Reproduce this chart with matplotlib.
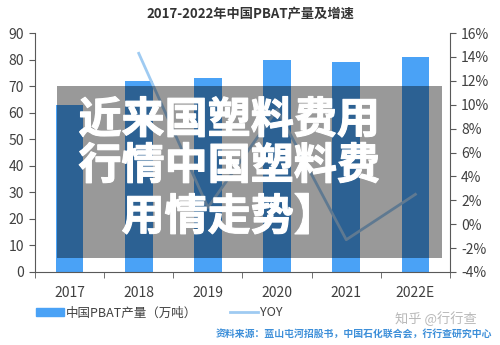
import matplotlib
matplotlib.use("Agg")
import matplotlib.pyplot as plt
import matplotlib.patheffects as pe
from matplotlib.patches import Rectangle, Patch
from matplotlib.lines import Line2D
import numpy as np

plt.rcParams["font.family"] = ["Noto Sans CJK SC", "DejaVu Sans"]

years = ["2017", "2018", "2019", "2020", "2021", "2022E"]
output = [63, 72, 73, 80, 79, 81]          # 万吨
yoy_years = ["2018", "2019", "2020", "2021", "2022E"]
yoy = [14.3, 1.4, 9.6, -1.3, 2.5]           # %

title = "2017-2022年中国PBAT产量及增速"
bar_label = "中国PBAT产量（万吨）"
line_label = "YOY"
source = "资料来源：蓝山屯河招股书，中国石化联合会，行行查研究中心"
overlay_lines = ["近来国塑料费用", "行情中国塑料费", "用情走势】"]

bar_color = "#4aa2f6"
line_color = "#9fcbf2"
text_color = "#404040"
spine_color = "#595959"

fig = plt.figure(figsize=(5, 3.45), dpi=100)
ax = fig.add_axes([0.07, 0.2116, 0.83, 0.6927])
ax2 = ax.twinx()

x = np.arange(len(years))
ax.bar(x, output, width=0.4, color=bar_color, zorder=2)
xl = [years.index(y) for y in yoy_years]
ax2.plot(xl, yoy, color=line_color, lw=2, zorder=3)

ax.set_xlim(-0.5, len(years) - 0.5)
ax.set_ylim(0, 90)
ax.set_yticks(range(0, 91, 10))
ax2.set_ylim(-4, 16)
ax2.set_yticks(range(-4, 17, 2))
ax2.set_yticklabels([f"{v}%" for v in range(-4, 17, 2)])

ax.set_xticks(x)
ax.set_xticklabels(years)
ax.set_xticks(np.arange(-0.5, len(years)), minor=True)
ax.tick_params(axis="x", which="major", length=0, pad=10, labelsize=10, labelcolor=text_color)
ax.tick_params(axis="x", which="minor", length=4, direction="out", color=spine_color)
ax.tick_params(axis="y", length=4, color=spine_color, labelsize=10, labelcolor=text_color, pad=4)
ax2.tick_params(axis="y", length=4, color=spine_color, labelsize=10, labelcolor=text_color, pad=4)

for a in (ax, ax2):
    a.spines["top"].set_visible(False)
    for s in ("left", "right", "bottom"):
        a.spines[s].set_color(spine_color)
        a.spines[s].set_linewidth(0.8)
ax.spines["right"].set_visible(False)
ax2.spines["left"].set_visible(False)
ax2.spines["bottom"].set_visible(False)

fig.text(0.5, 0.962, title, ha="center", va="center", fontsize=9.5,
         fontweight="bold", color="#333333")

handles = [Patch(color=bar_color),
           Line2D([0], [0], color=line_color, lw=2)]
fig.legend(handles, [bar_label, line_label], loc="center left",
           bbox_to_anchor=(0.05, 0.093), ncol=2, frameon=False,
           fontsize=9, handlelength=2.2, handletextpad=0.2,
           columnspacing=2.6, labelcolor=text_color)

fig.text(0.984, 0.033, source, ha="right", va="center", fontsize=7.1,
         fontweight="bold", color="#3d8fd9")
fig.text(0.872, 0.075, "知乎 @行行查", ha="center", va="center",
         fontsize=9.5, color="#b8b8b8")

# translucent overlay with big caption
fig.patches.append(Rectangle((0.114, 0.252), 0.77, 0.499,
                             transform=fig.transFigure, facecolor="black",
                             alpha=0.4, edgecolor="none", zorder=10))
for txt, yy in zip(overlay_lines, [0.652, 0.519, 0.371]):
    fig.text(0.458, yy, txt, ha="center", va="center", fontsize=31,
             fontweight="bold", color="white", zorder=11,
             path_effects=[pe.withStroke(linewidth=0.8, foreground="white")])

fig.savefig("out.png", dpi=100)
